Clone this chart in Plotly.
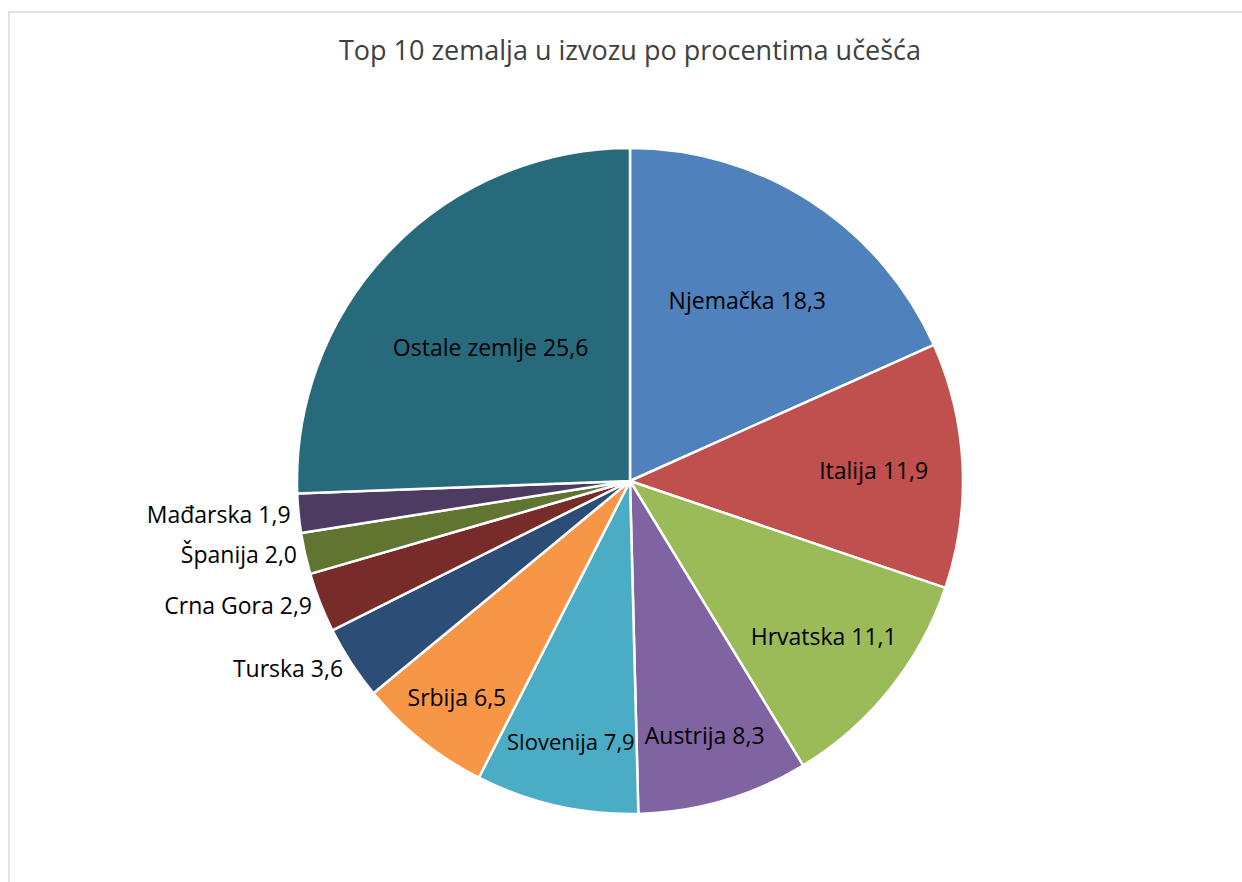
import plotly.graph_objects as go

countries = ["Njemačka", "Italija", "Hrvatska", "Austrija", "Slovenija", "Srbija",
             "Turska", "Crna Gora", "Španija", "Mađarska", "Ostale zemlje"]
shares = [18.3, 11.9, 11.1, 8.3, 7.9, 6.5, 3.6, 2.9, 2.0, 1.9, 25.6]
colors = ["#4F81BD", "#C0504D", "#9BBB59", "#8064A2", "#4BACC6", "#F79646",
          "#2C4D75", "#772C2A", "#5F7530", "#4D3B62", "#276A7C"]
positions = ["inside"] * 6 + ["outside"] * 4 + ["inside"]

labels_txt = [f"{c} {str(v).replace('.', ',')}" for c, v in zip(countries, shares)]

W, H = 1242, 882
cx, cy, r = 630, 481, 333

fig = go.Figure(go.Pie(
    labels=countries,
    values=shares,
    text=labels_txt,
    textinfo="text",
    textposition=positions,
    insidetextorientation="horizontal",
    sort=False,
    direction="clockwise",
    rotation=0,
    marker=dict(colors=colors, line=dict(color="white", width=2.5)),
    textfont=dict(family="Open Sans", size=23, color="black"),
    showlegend=False,
    domain=dict(x=[(cx - r) / W, (cx + r) / W], y=[(H - cy - r) / H, (H - cy + r) / H]),
    hoverinfo="label+value",
))

fig.update_layout(
    width=W, height=H,
    margin=dict(l=0, r=0, t=0, b=0),
    paper_bgcolor="white",
    title=dict(text="Top 10 zemalja u izvozu po procentima učešća",
               x=630 / W, xanchor="center", y=1 - 51 / H, yanchor="middle",
               font=dict(family="Open Sans", size=27, color="#404040")),
    shapes=[dict(type="rect", xref="paper", yref="paper",
                 x0=9 / W, x1=1.05, y0=-0.05, y1=1 - 12 / H,
                 line=dict(color="#D9D9D9", width=1.5), fillcolor="rgba(0,0,0,0)")],
)

fig.write_html("out.html")
